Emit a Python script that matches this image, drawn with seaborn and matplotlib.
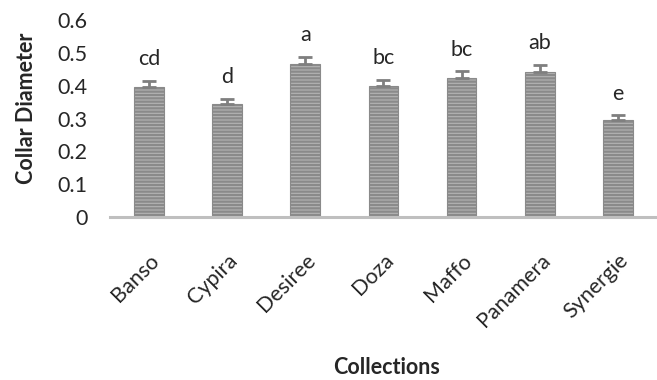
import pandas as pd
import matplotlib.pyplot as plt
import seaborn as sns

# Data
collections = ["Banso", "Cypira", "Desiree", "Doza", "Maffo", "Panamera", "Synergie"]
diameter = [0.395, 0.343, 0.465, 0.398, 0.423, 0.441, 0.295]
errors = [0.020, 0.018, 0.024, 0.020, 0.022, 0.023, 0.015]
letters = ["cd", "d", "a", "bc", "bc", "ab", "e"]

df = pd.DataFrame({"Collections": collections, "Collar Diameter": diameter})

sns.set_style("white")
plt.rcParams["font.family"] = ["Lato", "DejaVu Sans"]
plt.rcParams["hatch.linewidth"] = 1.6

fig = plt.figure(figsize=(6.57, 3.8), dpi=100)
ax = fig.add_axes([0.167, 0.429, 0.833, 0.518])

sns.barplot(
    x="Collections",
    y="Collar Diameter",
    data=df,
    color="#b4b4b4",
    edgecolor="#8a8a8a",
    hatch="-----",
    linewidth=0.8,
    width=0.38,
    saturation=1,
    ax=ax,
)

# Error bars
ax.errorbar(range(len(collections)), diameter, yerr=[[0] * len(errors), errors],
            fmt="none", ecolor="#7f7f7f", elinewidth=2, capsize=5, capthick=2)

# Significance letters
for i, (v, e, t) in enumerate(zip(diameter, errors, letters)):
    ax.text(i, v + e + 0.035, t, ha="center", va="bottom", fontsize=15.5)

ax.set_ylim(0, 0.6)
ax.set_xlim(-0.5, 6.5)
ax.set_yticks([0, 0.1, 0.2, 0.3, 0.4, 0.5, 0.6])
ax.set_yticklabels(["0", "0.1", "0.2", "0.3", "0.4", "0.5", "0.6"])
ax.tick_params(axis="y", length=0, labelsize=15.5, pad=16)
ax.tick_params(axis="x", length=0, labelsize=15.5, pad=24)
plt.setp(ax.get_xticklabels(), rotation=45, ha="right", rotation_mode="anchor")

for s in ["left", "right", "top"]:
    ax.spines[s].set_visible(False)
ax.spines["bottom"].set_color("#bfbfbf")
ax.spines["bottom"].set_linewidth(2.2)

ax.set_ylabel("Collar Diameter", fontsize=15.5, fontweight="bold")
ax.yaxis.set_label_coords(-0.133, 0.55)
ax.set_xlabel("Collections", fontsize=15.5, fontweight="bold")
ax.xaxis.set_label_coords(0.505, -0.71)

plt.savefig("out.png", dpi=100)
